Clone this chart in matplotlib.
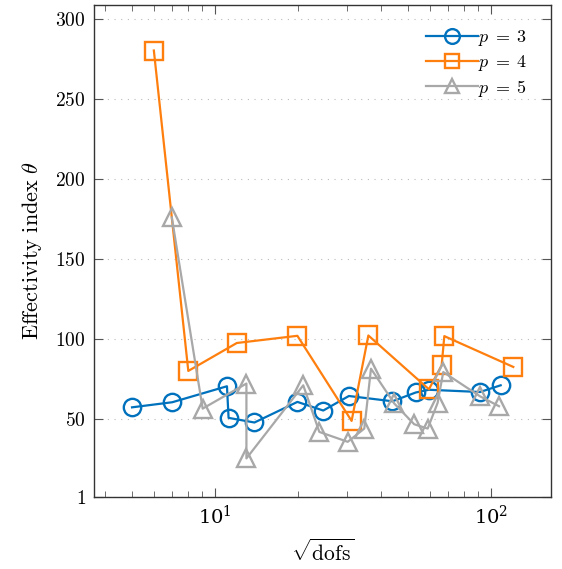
import matplotlib
matplotlib.use("Agg")
import matplotlib.pyplot as plt
from matplotlib.ticker import FixedLocator, FuncFormatter, LogLocator

plt.rcParams["mathtext.fontset"] = "cm"
plt.rcParams["font.family"] = "serif"
plt.rcParams["font.serif"] = ["DejaVu Serif"]

# sqrt(dofs) and effectivity index for each polynomial degree
x_p3 = [5.0, 7.0, 11.05, 11.2, 13.9, 19.9, 24.7, 30.6, 44.0, 53.5, 59.7, 91.5, 108.7]
y_p3 = [57.0, 60.2, 70.2, 50.4, 47.5, 60.4, 55.0, 64.1, 60.8, 66.3, 68.0, 66.6, 70.8]

x_p4 = [6.0, 8.0, 12.0, 19.9, 31.3, 36.0, 59.7, 66.4, 67.9, 120.8]
y_p4 = [280.5, 79.8, 97.3, 101.8, 48.5, 102.0, 68.3, 83.3, 101.6, 82.3]

x_p5 = [6.97, 9.02, 13.0, 13.0, 20.9, 23.9, 30.3, 34.8, 36.8, 44.7, 52.8, 59.1, 64.2, 67.3, 91.5, 107.2]
y_p5 = [176.0, 56.2, 71.9, 25.0, 70.8, 41.6, 35.4, 43.7, 81.2, 59.4, 46.4, 43.7, 59.8, 79.1, 63.9, 57.7]

y_ticks = [1, 50, 100, 150, 200, 250, 300]

fig = plt.figure(figsize=(5.62, 5.69), dpi=100)
ax = fig.add_axes((0.1673, 0.127, 0.8131, 0.8642))

style = dict(linewidth=1.6, markersize=12.5, markerfacecolor="none", markeredgewidth=1.7)
ax.plot(x_p3, y_p3, marker="o", color="#0072BD", label=r"$p\;=\;3$", **style)
ax.plot(x_p4, y_p4, marker="s", color="#FF7F0E", label=r"$p\;=\;4$", **style)
ax.plot(x_p5, y_p5, marker="^", color="#A8A8A8", label=r"$p\;=\;5$", **style)

ax.set_xscale("log")
ax.set_xlim(3.64, 165.5)
ax.set_ylim(1, 309)

ax.xaxis.set_major_locator(LogLocator(base=10))
ax.xaxis.set_minor_locator(LogLocator(base=10, subs=range(2, 10)))
ax.yaxis.set_major_locator(FixedLocator(y_ticks))
ax.yaxis.set_major_formatter(FuncFormatter(lambda v, _: r"$%d$" % v))

ax.tick_params(which="both", direction="in", top=True, right=True,
               labelsize=14, color="#555555")
ax.tick_params(which="major", length=6.5, width=0.8, pad=6)
ax.tick_params(which="minor", length=4.5, width=0.6)

ax.grid(axis="y", which="major", linestyle=(0, (1, 5)), color="#bbbbbb", linewidth=0.8)
ax.grid(axis="x", visible=False)
for s in ax.spines.values():
    s.set_color("#333333")
    s.set_linewidth(1.0)

ax.set_xlabel(r"$\sqrt{\mathrm{dofs}}$", fontsize=15.5, labelpad=8)
ax.set_ylabel(r"$\mathrm{Effectivity\ index}\ \theta$", fontsize=16, labelpad=8)

ax.legend(loc="upper right", frameon=False, fontsize=13, handlelength=2.9,
          borderaxespad=0.9, labelspacing=0.25, handletextpad=0.0, markerscale=0.85)

fig.savefig("out.png", dpi=100)
